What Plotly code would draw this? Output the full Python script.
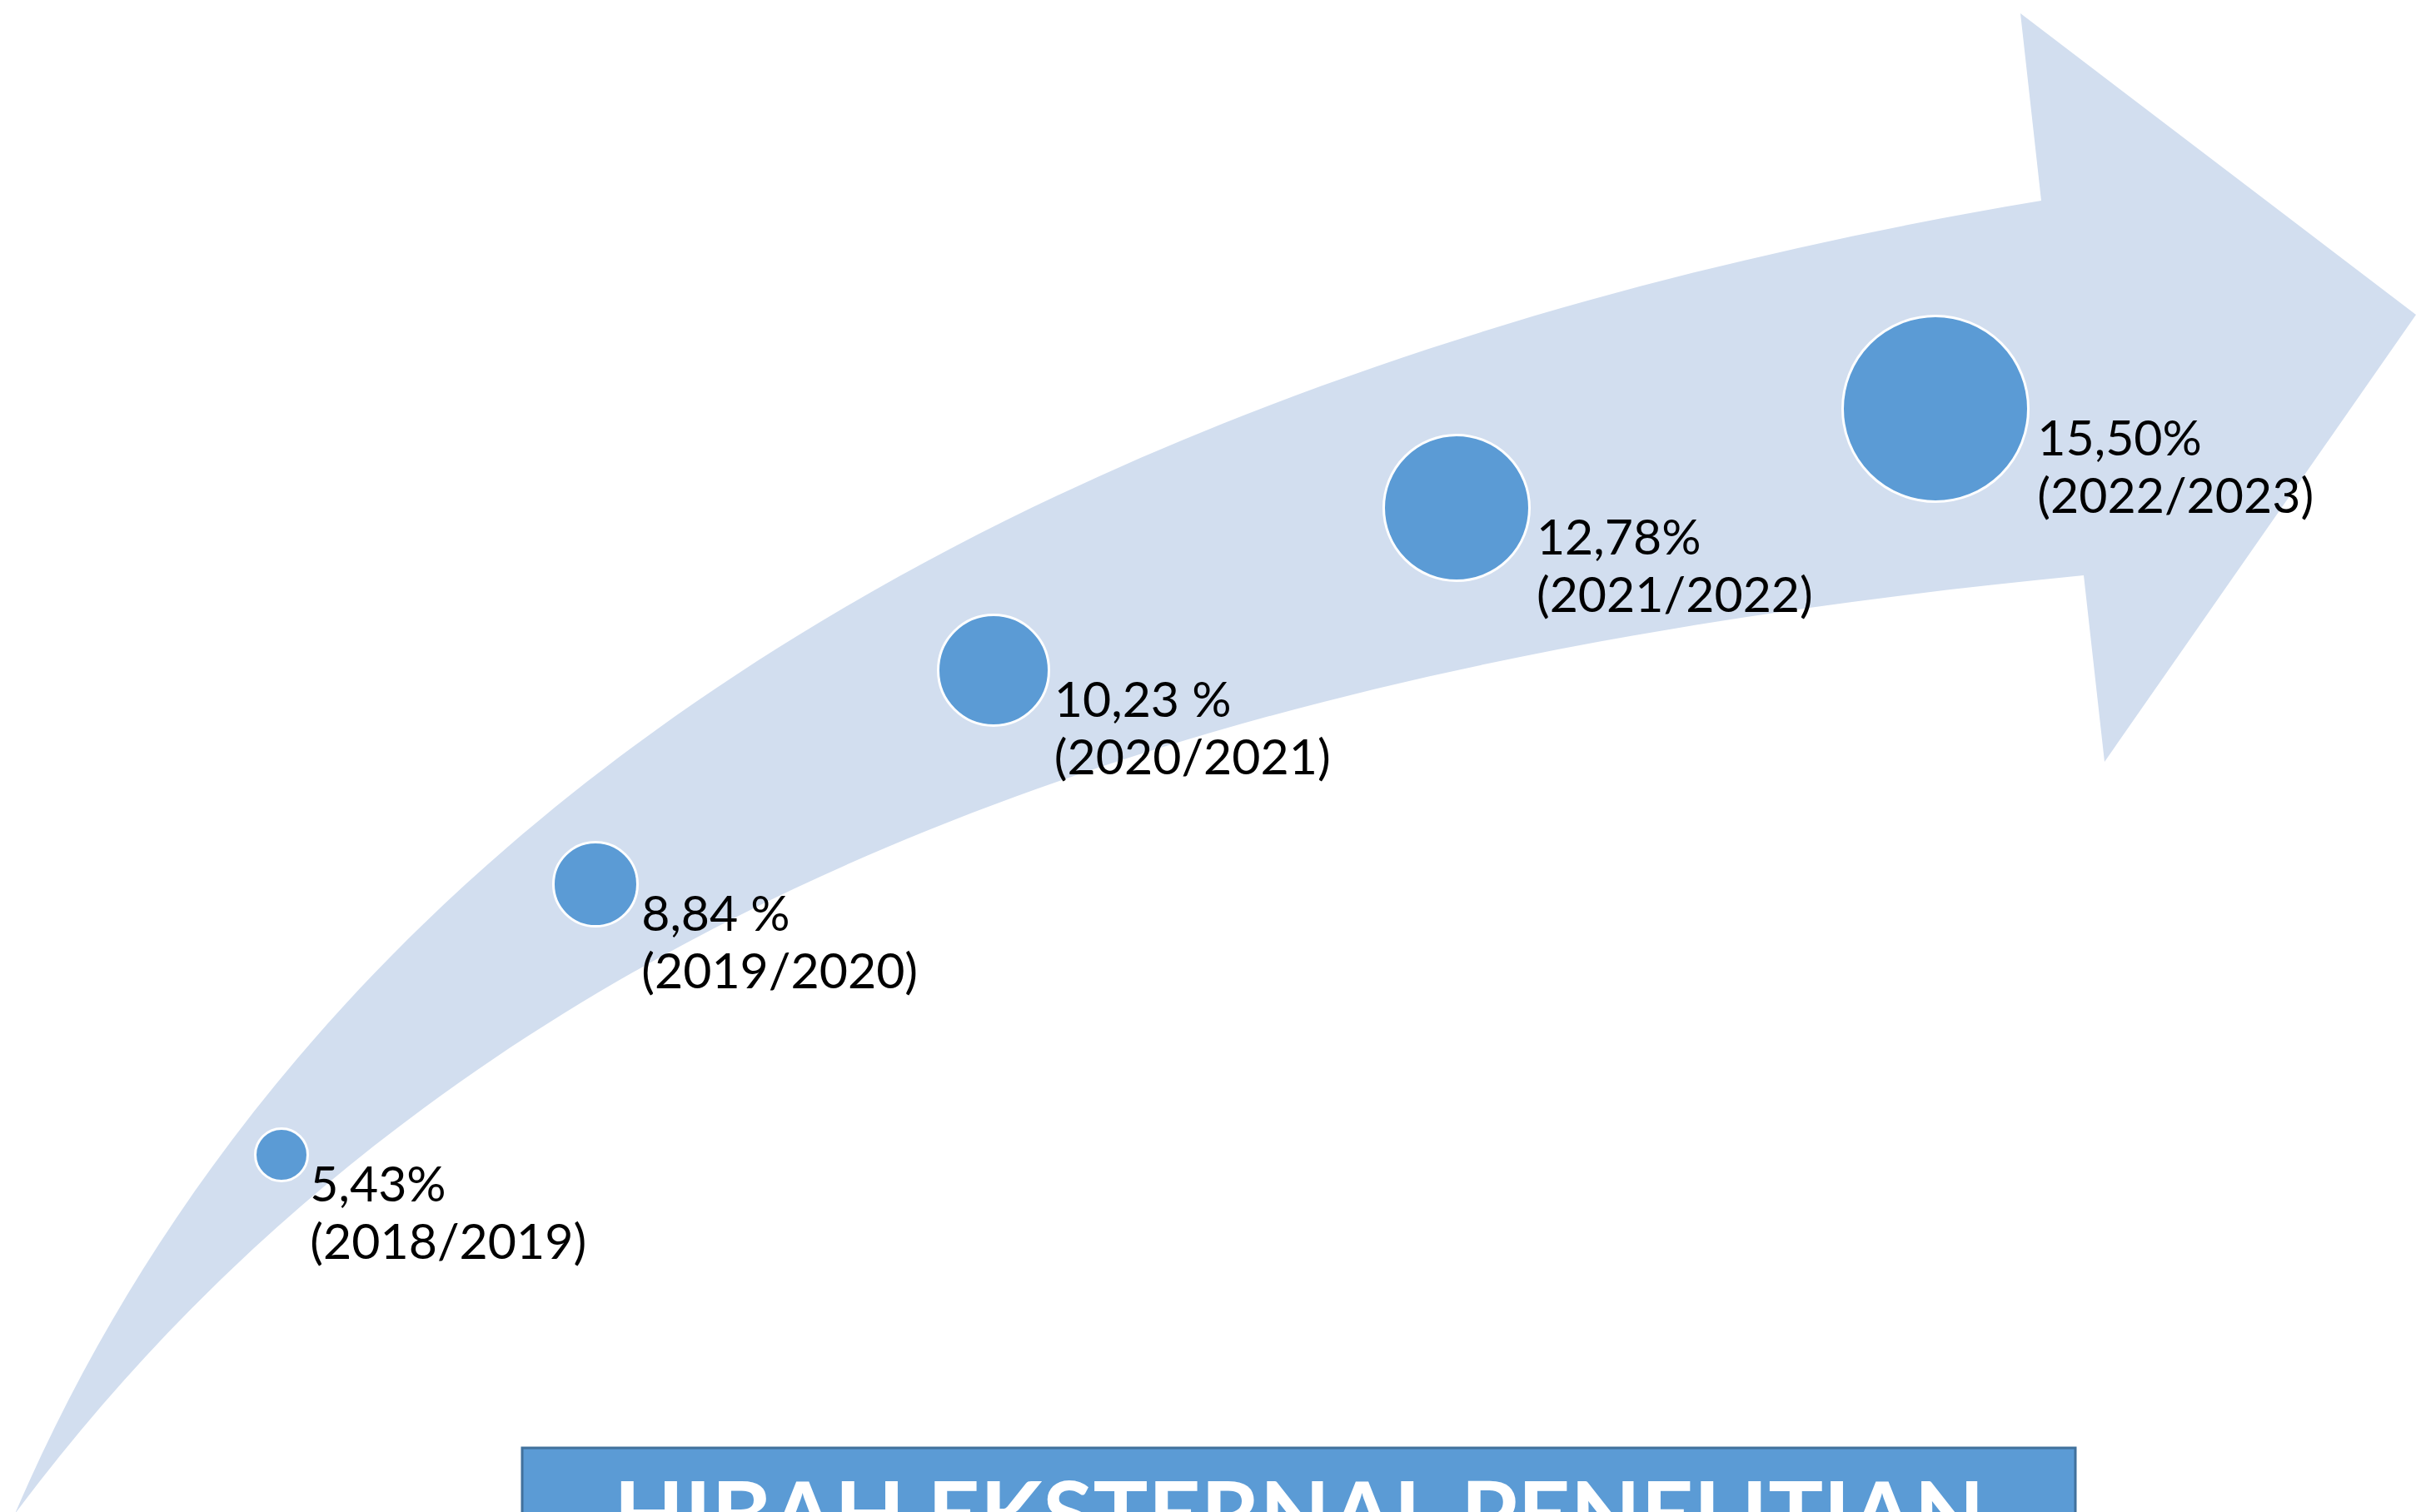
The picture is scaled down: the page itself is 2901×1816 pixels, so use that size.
import numpy as np
import plotly.graph_objects as go

# ---------------- data ----------------
values = [5.43, 8.84, 10.23, 12.78, 15.50]
value_labels = ["5,43%", "8,84 %", "10,23 %", "12,78%", "15,50%"]
periods = ["(2018/2019)", "(2019/2020)", "(2020/2021)", "(2021/2022)", "(2022/2023)"]
title_text = "HIBAH EKSTERNAL PENELITIAN"

# ---------------- layout (pixel canvas) ----------------
W, H = 2901, 1816
# bubble placement along the arrow (canvas pixels) and bubble radius
bubble_x = [338, 715, 1193, 1749, 2324]
bubble_y = [1387, 1062, 805, 610, 491]
bubble_r = [33, 52, 68, 89, 113]

ARROW = "#D2DEEF"
BUBBLE = "#5B9BD5"
BANNER_LINE = "#41719C"
FONT = "Lato"
LABEL_FS = 59
TITLE_FS = 110

# arrow outline (decoration): traced edge points
upper_edge = [(18, 1818), (72, 1700), (123, 1600), (260, 1400), (400, 1225), (600, 1020),
              (653, 980), (715, 932), (830, 849), (944, 770), (1059, 702), (1197, 634),
              (1404, 535), (1576, 467), (1748, 409), (1920, 357), (2173, 294), (2400, 250),
              (2451, 241)]
head = [(2426, 16), (2901, 378), (2527, 915), (2502, 691)]
lower_edge = [(2502, 691), (2400, 700), (2173, 733), (1863, 781), (1620, 833), (1404, 896),
              (1270, 938), (1120, 995), (692, 1210), (525, 1320), (280, 1513), (203, 1600),
              (123, 1700), (18, 1818)]


def fit_cubic(pts, iters=60):
    """Least-squares cubic Bezier with fixed end points."""
    P = np.array(pts, float)
    P0, P3 = P[0], P[-1]
    d = np.r_[0, np.cumsum(np.linalg.norm(np.diff(P, axis=0), axis=1))]
    t = d / d[-1]
    P1 = P2 = None
    for _ in range(iters):
        b0 = (1 - t) ** 3
        b1 = 3 * (1 - t) ** 2 * t
        b2 = 3 * (1 - t) * t ** 2
        b3 = t ** 3
        A = np.stack([b1, b2], 1)
        R = P - np.outer(b0, P0) - np.outer(b3, P3)
        sol = np.linalg.lstsq(A, R, rcond=None)[0]
        P1, P2 = sol[0], sol[1]
        tt = t[:, None]
        B = (1 - tt) ** 3 * P0 + 3 * (1 - tt) ** 2 * tt * P1 + 3 * (1 - tt) * tt ** 2 * P2 + tt ** 3 * P3
        D1 = 3 * (1 - tt) ** 2 * (P1 - P0) + 6 * (1 - tt) * tt * (P2 - P1) + 3 * tt ** 2 * (P3 - P2)
        D2 = 6 * (1 - tt) * (P2 - 2 * P1 + P0) + 6 * tt * (P3 - 2 * P2 + P1)
        diff = B - P
        num = (diff * D1).sum(1)
        den = (D1 * D1).sum(1) + (diff * D2).sum(1)
        t = np.clip(t - num / np.where(den == 0, 1, den), 0, 1)
        t[0], t[-1] = 0, 1
    return P1, P2


def bez(P1, P2, end):
    return f"C {P1[0]:.1f},{P1[1]:.1f} {P2[0]:.1f},{P2[1]:.1f} {end[0]},{end[1]}"


u1, u2 = fit_cubic(upper_edge)
l1, l2 = fit_cubic(lower_edge)
path = f"M {upper_edge[0][0]},{upper_edge[0][1]} " + bez(u1, u2, upper_edge[-1])
for (x, y) in head:
    path += f" L {x},{y}"
path += " " + bez(l1, l2, lower_edge[-1]) + " Z"

fig = go.Figure()

# bubbles
fig.add_trace(go.Scatter(
    x=bubble_x, y=bubble_y, mode="markers",
    marker=dict(size=[2 * r - 3 for r in bubble_r], color=BUBBLE,
                line=dict(color="white", width=3), opacity=1),
    customdata=values, hoverinfo="skip", showlegend=False))

# labels
lab_x = [cx + r + 0.1 * r - 2 for cx, r in zip(bubble_x, bubble_r)]
base1 = [cy + 56 for cy in bubble_y]
base2 = [cy + 125 for cy in bubble_y]
fig.add_trace(go.Scatter(
    x=lab_x, y=[b - 0.25 * LABEL_FS for b in base1], mode="text",
    text=value_labels, textposition="middle right",
    textfont=dict(family=FONT, size=LABEL_FS, color="black"),
    hoverinfo="skip", showlegend=False))
fig.add_trace(go.Scatter(
    x=lab_x, y=[b - 0.25 * LABEL_FS for b in base2], mode="text",
    text=periods, textposition="middle right",
    textfont=dict(family=FONT, size=LABEL_FS, color="black"),
    hoverinfo="skip", showlegend=False))

# title banner text (cut by the bottom edge, as in the reference)
fig.add_trace(go.Scatter(
    x=[1560], y=[1779 - 0.0335 * TITLE_FS], mode="text",
    text=[title_text], textposition="bottom center",
    textfont=dict(family=FONT, size=TITLE_FS, color="white", weight="bold"),
    hoverinfo="skip", showlegend=False))

shapes = [
    dict(type="path", path=path, xref="x", yref="y", fillcolor=ARROW,
         line=dict(width=0), layer="below"),
    dict(type="rect", x0=627, x1=2492, y0=1739, y1=1860, xref="x", yref="y",
         fillcolor=BUBBLE, line=dict(color=BANNER_LINE, width=3), layer="below"),
]

fig.update_layout(
    width=W, height=H,
    margin=dict(l=0, r=0, t=0, b=0),
    paper_bgcolor="white", plot_bgcolor="white",
    xaxis=dict(range=[0, W], visible=False, fixedrange=True),
    yaxis=dict(range=[H, 0], visible=False, fixedrange=True),
    shapes=shapes,
    showlegend=False,
)

fig.write_html("out.html", config={"displayModeBar": False},
               post_script="document.body.style.margin='0';document.body.style.overflow='hidden';")
